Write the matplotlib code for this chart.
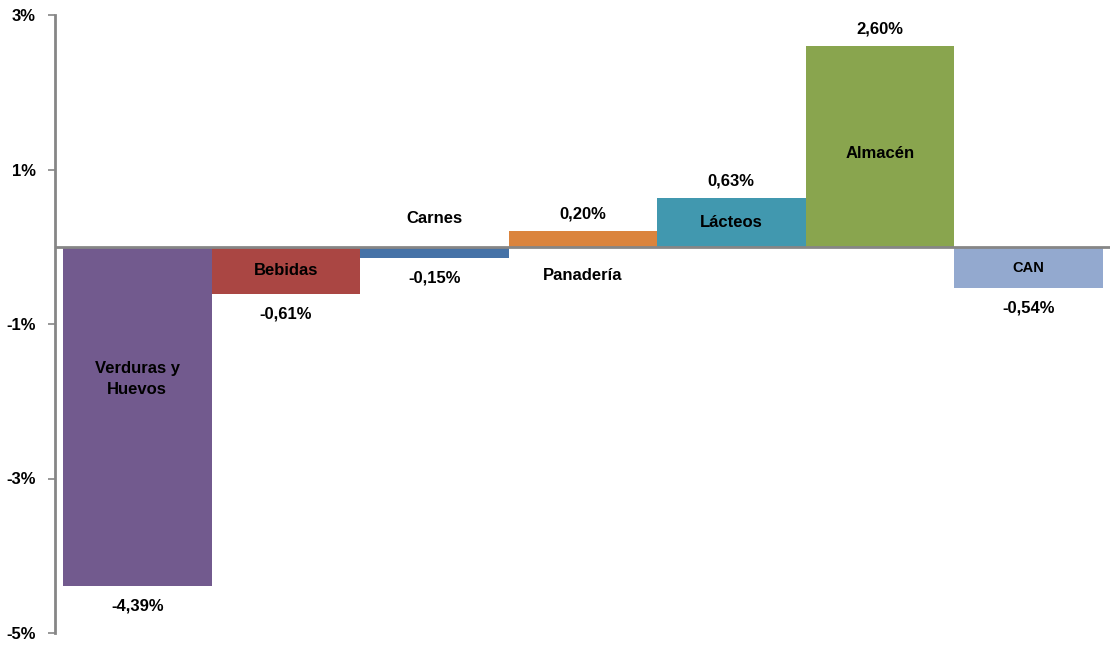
import numpy as np
import matplotlib.pyplot as plt

plt.rcParams['font.family'] = ['Liberation Sans', 'DejaVu Sans']

categories = ['Verduras y\nHuevos', 'Bebidas', 'Carnes', 'Panadería', 'Lácteos', 'Almacén', 'CAN']
values = [-4.39, -0.61, -0.15, 0.20, 0.63, 2.60, -0.54]
colors = ['#725A8E', '#AA4643', '#4572A7', '#DB843D', '#4198AF', '#89A54E', '#93A9CF']
ticks = [3, 1, -1, -3, -5]

# where the category name sits: inside the bar, or on the other side of the axis
name_inside = [True, True, False, False, True, True, True]
name_sizes = [12, 12, 12, 12, 12, 12, 10.5]
# fraction of the bar height where inside names are centred
name_frac = [0.39, 0.5, 0.5, 0.5, 0.5, 0.465, 0.5]

fig = plt.figure(figsize=(11.11, 6.46), dpi=100)
ax = fig.add_axes([55 / 1111, 1 - 633 / 646, 1055 / 1111, (633 - 15) / 646])

x = np.arange(len(values))
ax.bar(x, values, width=1.0, align='edge', color=colors, zorder=2)
ax.axhline(0, color='#868686', linewidth=2, zorder=3)

ax.set_xlim(-0.054, 7.05)
ax.set_ylim(-5, 3)
ax.set_yticks(ticks)
ax.set_yticklabels([f'{t}%' for t in ticks], fontsize=12, fontweight='bold')
ax.set_xticks([])
ax.tick_params(axis='y', length=5, width=1.2, color='#868686', pad=9)

for s in ['top', 'right', 'bottom']:
    ax.spines[s].set_visible(False)
ax.spines['left'].set_color('#868686')
ax.spines['left'].set_linewidth(2)

for i, (v, name) in enumerate(zip(values, categories)):
    cx = i + 0.5
    lab = f'{v:.2f}'.replace('.', ',') + '%'
    # value label just beyond the bar end
    if v >= 0:
        ax.annotate(lab, (cx, v), xytext=(0, 7), textcoords='offset points',
                    ha='center', va='bottom', fontsize=12, fontweight='bold')
    else:
        ax.annotate(lab, (cx, v), xytext=(0, -9), textcoords='offset points',
                    ha='center', va='top', fontsize=12, fontweight='bold')
    # category name
    if name_inside[i]:
        ax.text(cx, v * name_frac[i], name, ha='center', va='center', fontsize=name_sizes[i],
                fontweight='bold', linespacing=1.55, zorder=4)
    elif v < 0:
        ax.annotate(name, (cx, 0), xytext=(0, 15), textcoords='offset points',
                    ha='center', va='bottom', fontsize=name_sizes[i], fontweight='bold')
    else:
        ax.annotate(name, (cx, 0), xytext=(0, -15), textcoords='offset points',
                    ha='center', va='top', fontsize=name_sizes[i], fontweight='bold')

fig.savefig('out.png', dpi=100)
